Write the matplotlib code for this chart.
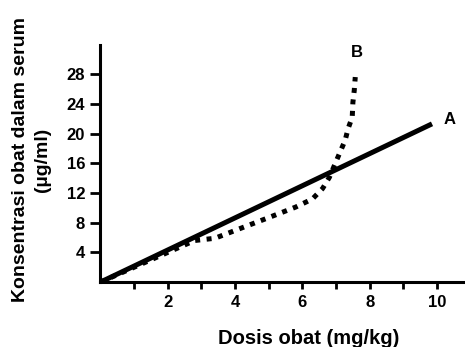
import numpy as np
import matplotlib
matplotlib.use("Agg")
import matplotlib.pyplot as plt

plt.rcParams['font.family'] = ['Liberation Sans', 'DejaVu Sans']
plt.rcParams['font.weight'] = 'bold'

# line A: linear
dose_a = [0.0, 9.85]
conc_a = [0.0, 21.3]

# line B: non-linear (dotted)
dose_b = [0.0, 1.0, 2.0, 2.8, 3.4, 4.2, 4.95, 5.8, 6.3, 6.6, 6.8, 7.1, 7.27, 7.36, 7.48, 7.5, 7.54, 7.57]
conc_b = [0.0, 2.0, 4.0, 5.6, 5.9, 7.3, 8.6, 10.1, 11.2, 12.6, 14.1, 17.3, 19.1, 20.7, 22.2, 24.2, 25.8, 27.6]

x_ticks = list(range(1, 11))
x_labels = ['', '2', '', '4', '', '6', '', '8', '', '10']
y_ticks = [4, 8, 12, 16, 20, 24, 28]

fig = plt.figure(figsize=(4.65, 3.47), dpi=100)
ax = fig.add_axes([0.216, 0.187, 0.784, 0.683])

ax.plot(dose_a, conc_a, color='black', lw=3.6, solid_capstyle='butt')
ax.plot(dose_b, conc_b, color='black', lw=3.6, linestyle=(0, (1, 1.3)),
        dash_capstyle='butt')

ax.text(10.2, 21.9, 'A', fontsize=12, fontweight='bold', va='center')
ax.text(7.63, 30.9, 'B', fontsize=12, fontweight='bold', ha='center', va='center')

ax.set_xlim(0, 10.83)
ax.set_ylim(0, 31.9)
ax.set_xticks(x_ticks)
ax.set_xticklabels(x_labels)
ax.set_yticks(y_ticks)
ax.tick_params(axis='x', direction='out', length=5, width=2, labelsize=12, pad=4)
ax.tick_params(axis='y', direction='out', length=7, width=2, labelsize=12, pad=4)
for lab in ax.get_xticklabels() + ax.get_yticklabels():
    lab.set_fontweight('bold')

for s in ['top', 'right']:
    ax.spines[s].set_visible(False)
for s in ['left', 'bottom']:
    ax.spines[s].set_linewidth(2.2)

fig.text(309 / 465, 1 - 338 / 347, 'Dosis obat (mg/kg)', ha='center', va='center',
         fontsize=14.5, fontweight='bold')
fig.text(31.5 / 465, 1 - 160 / 347, 'Konsentrasi obat dalam serum\n(µg/ml)', rotation=90,
         ha='center', va='center', fontsize=14, fontweight='bold', linespacing=1.4)

fig.savefig('out.png', dpi=100)
